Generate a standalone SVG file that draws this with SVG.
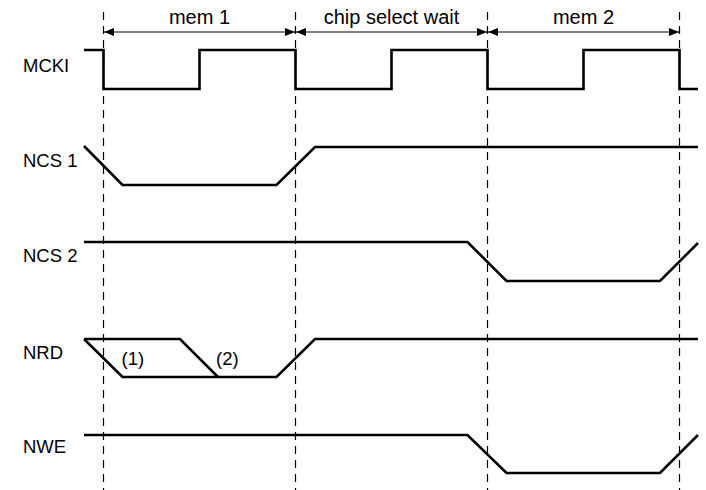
<svg xmlns="http://www.w3.org/2000/svg" width="706" height="490" viewBox="0 0 706 490">
<defs>
<style>
text{font-family:"Liberation Sans",Arial,sans-serif;font-size:20px;fill:#000}
.lbl{font-size:18.5px}
.hdr{text-anchor:middle}
.sig{fill:none;stroke:#000;stroke-width:2.6;stroke-linejoin:miter}
.dash{stroke:#000;stroke-width:1.2;stroke-dasharray:8 6}
.dim{stroke:#000;stroke-width:1.2;fill:none}
</style>
<marker id="ah" viewBox="0 0 10 8" refX="10" refY="4" markerWidth="10" markerHeight="8" markerUnits="userSpaceOnUse" orient="auto-start-reverse">
<path d="M0,0 L10,4 L0,8 z" fill="#000"/>
</marker>
</defs>
<rect width="706" height="490" fill="#fff"/>
<g id="gridlines">
<line class="dash" x1="103.5" y1="12" x2="103.5" y2="490"/>
<line class="dash" x1="295.5" y1="12" x2="295.5" y2="490"/>
<line class="dash" x1="487.5" y1="12" x2="487.5" y2="490"/>
<line class="dash" x1="679.5" y1="12" x2="679.5" y2="490"/>
</g>
<g id="connectors">
<line class="dim" x1="104" y1="32" x2="295" y2="32" marker-start="url(#ah)" marker-end="url(#ah)"/>
<line class="dim" x1="296" y1="32" x2="487" y2="32" marker-start="url(#ah)" marker-end="url(#ah)"/>
<line class="dim" x1="488" y1="32" x2="679" y2="32" marker-start="url(#ah)" marker-end="url(#ah)"/>
</g>
<g id="headers">
<text class="hdr" x="199.5" y="24">mem 1</text>
<text class="hdr" x="391.5" y="24">chip select wait</text>
<text class="hdr" x="583.5" y="24">mem 2</text>
</g>
<g id="MCKI">
<text class="lbl" x="23" y="72">MCKI</text>
<polyline class="sig" points="84,50 103.5,50 103.5,89 199.5,89 199.5,50 295.5,50 295.5,89 391.5,89 391.5,50 487.5,50 487.5,89 583.5,89 583.5,50 679.5,50 679.5,89 698,89"/>
</g>
<g id="NCS1">
<text class="lbl" x="23" y="167">NCS 1</text>
<polyline class="sig" points="84,146 122.5,185 276.5,185 315,147 698,147"/>
</g>
<g id="NCS2">
<text class="lbl" x="23" y="262">NCS 2</text>
<polyline class="sig" points="84,242 467.5,242 506.5,281 660,281 698,243"/>
</g>
<g id="NRD">
<text class="lbl" x="23" y="359">NRD</text>
<polyline class="sig" points="84,339 122.5,377 276.5,377 315,339 698,339"/>
<polyline class="sig" points="84,339 180,339 218,377"/>
<text class="lbl" x="121.5" y="365">(1)</text>
<text class="lbl" x="216" y="365">(2)</text>
</g>
<g id="NWE">
<text class="lbl" x="23" y="453">NWE</text>
<polyline class="sig" points="84,435 467.5,435 506.5,473 660,473 698,435"/>
</g>
</svg>
